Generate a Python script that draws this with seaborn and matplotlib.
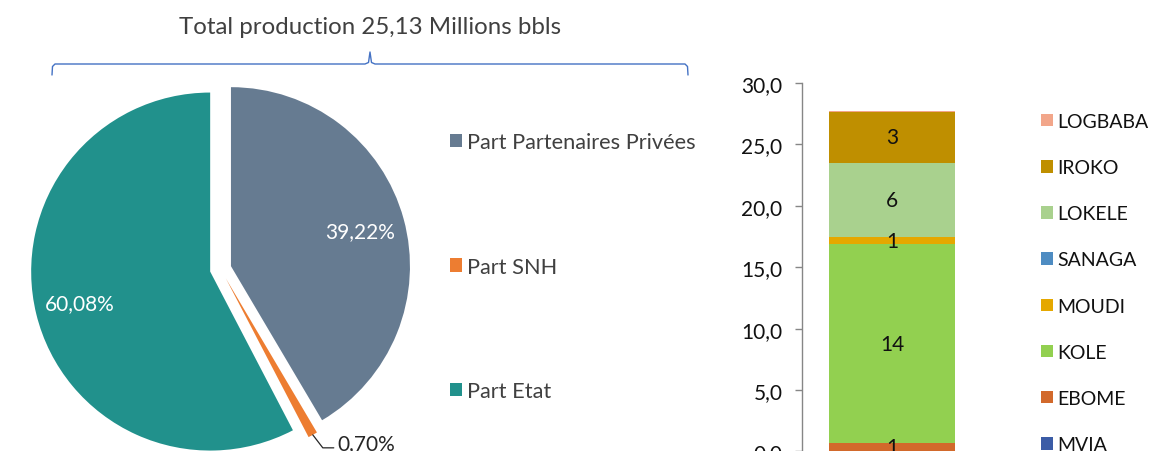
import matplotlib
matplotlib.use("Agg")
import matplotlib.pyplot as plt
from matplotlib.lines import Line2D
import numpy as np
import pandas as pd
import seaborn as sns

# ---------------- data ----------------
title_text = "Total production 25,13 Millions bbls"

pie_labels = ["Part Partenaires Privées", "Part SNH", "Part Etat"]
pie_shares = [41.5, 0.85, 57.65]          # slice sizes as drawn
pie_value_text = ["39,22%", "0,70%", "60,08%"]
pie_colors = ["#667B91", "#ED7D31", "#21918C"]

fields = ["MVIA", "EBOME", "KOLE", "MOUDI", "SANAGA", "LOKELE", "IROKO", "LOGBABA"]
field_values = [0.02, 0.69, 16.14, 0.57, 0.08, 6.0, 4.17, 0.07]
field_label_text = ["", "1", "14", "1", "", "6", "3", ""]
field_colors = ["#3B5CA6", "#D2692B", "#92D050", "#E5A800",
                "#4E8CC2", "#A9D18E", "#BF8F00", "#F2A68A"]
y_ticks = [0, 5, 10, 15, 20, 25, 30]

# ---------------- style ----------------
sns.set_theme(style="white")
plt.rcParams["font.family"] = ["Lato", "DejaVu Sans"]

W, H = 1149, 452
fig = plt.figure(figsize=(W / 100, H / 100), dpi=100)

def fx(px):
    return px / W

def fy(py):
    return 1 - py / H

# ---------------- pie ----------------
R = 179.0
cx, cy = 220.6, 270.0
half = 1.3 * R
ax_pie = fig.add_axes([fx(cx - half), fy(cy + half), 2 * half / W, 2 * half / H])
wedges, _ = ax_pie.pie(pie_shares, colors=pie_colors, startangle=90,
                       counterclock=False, explode=[0.06, 0.06, 0.06],
                       radius=1.0, wedgeprops=dict(linewidth=0))
ax_pie.set_xlim(-1.3, 1.3)
ax_pie.set_ylim(-1.3, 1.3)
ax_pie.set_aspect("equal")
ax_pie.axis("off")

for i in (0, 2):
    w = wedges[i]
    th = np.deg2rad((w.theta1 + w.theta2) / 2)
    x0, y0 = w.center
    ax_pie.text(x0 + 0.75 * np.cos(th), y0 + 0.75 * np.sin(th), pie_value_text[i],
                color="white", fontsize=15, ha="center", va="center")

# small slice label with leader line
w = wedges[1]
th = np.deg2rad((w.theta1 + w.theta2) / 2)
x0, y0 = w.center
px0, py0 = x0 + 1.0 * np.cos(th), y0 + 1.0 * np.sin(th)
p1 = (px0 + 10 / R, py0 - 13 / R)
p2 = (p1[0] + 11 / R, p1[1])
ax_pie.plot([px0, p1[0], p2[0]], [py0, p1[1], p2[1]], color="#262626", lw=0.9,
            clip_on=False)
ax_pie.text(p2[0] + 4 / R, p2[1] - 1 / R, pie_value_text[1], color="#262626",
            fontsize=15, ha="left", va="baseline", clip_on=False)

leg1 = fig.legend(wedges, pie_labels, loc="upper left",
                  bbox_to_anchor=(fx(450), fy(133)), frameon=False,
                  fontsize=15.7, labelcolor="#404040", borderpad=0, borderaxespad=0,
                  handlelength=0.55, handleheight=0.55, handletextpad=0.25,
                  labelspacing=4.8)

# title and brace
fig.text(fx(370), fy(28), title_text, fontsize=17.3, color="#404040",
         ha="center", va="center")
bx = [52, 52.5, 55, 365, 368.5, 370, 371.5, 375, 685, 687.5, 688]
by = [76, 67.5, 65, 65, 63.5, 53, 63.5, 65, 65, 67.5, 76]
fig.add_artist(Line2D([fx(v) for v in bx], [fy(v) for v in by],
                      color="#4472C4", lw=1.0, transform=fig.transFigure))

# ---------------- stacked bar ----------------
y0_px, y30_px = 452.4, 84.0
ax_bar = fig.add_axes([fx(802), fy(y0_px), 180 / W, (y0_px - y30_px) / H])

cum = np.cumsum(field_values)
df = pd.DataFrame({"field": fields, "value": field_values, "top": cum,
                   "color": field_colors, "lab": field_label_text})
for _, row in df.iloc[::-1].iterrows():
    sns.barplot(x=["Total"], y=[row["top"]], color=row["color"], saturation=1,
                width=0.7, ax=ax_bar, label=row["field"], linewidth=0)

for _, row in df.iterrows():
    if row["lab"]:
        ax_bar.text(0, row["top"] - row["value"] / 2, row["lab"], ha="center",
                    va="center", fontsize=15, color="#111111")

ax_bar.set_xlim(-0.5, 0.5)
ax_bar.set_ylim(0, 30)
ax_bar.set_yticks(y_ticks)
ax_bar.set_yticklabels([f"{v:.1f}".replace(".", ",") for v in y_ticks])
ax_bar.set_xticks([])
ax_bar.set_xlabel("")
ax_bar.set_ylabel("")
for s in ("top", "right", "bottom"):
    ax_bar.spines[s].set_visible(False)
ax_bar.spines["left"].set_color("#868686")
ax_bar.spines["left"].set_linewidth(1.0)
ax_bar.tick_params(axis="y", left=True, length=5, width=1.0, color="#868686",
                   labelsize=15, labelcolor="#111111", pad=9)

h, l = ax_bar.get_legend_handles_labels()
ax_bar.legend(h, l, loc="upper left", bbox_to_anchor=(fx(1041), fy(114)),
              bbox_transform=fig.transFigure, frameon=False, fontsize=14,
              labelcolor="#111111", borderpad=0, borderaxespad=0,
              handlelength=0.62, handleheight=0.62, handletextpad=0.2,
              labelspacing=1.5)

fig.savefig("out.png", dpi=100)
